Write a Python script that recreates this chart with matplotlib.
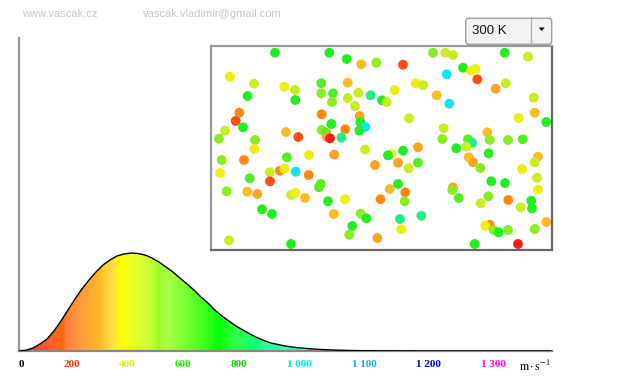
import matplotlib
matplotlib.use('Agg')
import matplotlib.pyplot as plt
import numpy as np
from matplotlib.colors import LinearSegmentedColormap
from matplotlib.patches import FancyBboxPatch, Polygon

# rozdeleni rychlosti (vyska v px nad osou)
speeds = [0, 25, 50, 75, 100, 125, 150, 175, 200, 225, 250, 275, 300, 325, 350, 375,
          400, 425, 450, 475, 500, 525, 550, 575, 600, 625, 650, 675, 700, 725, 750,
          775, 800, 825, 850, 875, 900, 925, 950, 975, 1000, 1050, 1100, 1150, 1200,
          1300, 1400, 1500, 1700, 1900]
density = [0, 0.8, 3, 7, 12, 20, 30, 41, 52, 62, 71, 79, 86, 91, 95, 97,
           98, 97.5, 96, 93, 89, 84, 79, 73, 67, 61, 54, 48, 41, 35, 30,
           25, 21, 17, 13.5, 10.5, 8, 6.5, 5, 4, 3.2, 2, 1.2, 0.7, 0.4,
           0.15, 0.05, 0, 0, 0]

tick_labels = ['0', '200', '400', '600', '800', '1 000', '1 100', '1 200', '1 300']
tick_colors = ['#000000', '#ff3311', '#ddf020', '#22ee00', '#11cc11', '#00e5ff',
               '#11aaff', '#0000ee', '#ff00ff']
tick_pos = [7, 188, 388, 587, 787, 1001, 1233, 1464, 1694]

# barevny prechod podle rychlosti
grad_speed = [0, 50, 86, 140, 152, 170, 218, 271, 290, 313, 343, 367, 396, 443, 479,
              497, 527, 599, 694, 712, 765, 819, 837, 884, 956, 1027, 1100, 1300, 1904]
grad_color = ['#ff3322', '#ff3a25', '#ff5533', '#ff6a20', '#ff6600', '#ff8040',
              '#ff9a3a', '#ffb030', '#ffbb22', '#ffd040', '#ffe840', '#ffff00',
              '#eeff22', '#d8ff33', '#bbff33', '#99ff22', '#aaff44', '#77ff33',
              '#22ff11', '#00ff00', '#33ff44', '#22ff66', '#11ff77', '#33ff99',
              '#33ffbb', '#22ffdd', '#22dddd', '#2277aa', '#333366']

# molekuly v nadobe
dot_x = [275, 329.3, 346.7, 361.3, 376.3, 230, 254, 284.3, 295, 321.3, 347.7, 247.7,
         295.3, 321.3, 333, 332, 347.7, 358.3, 370.7, 382, 386.7, 355, 239.3, 235.7,
         243, 225, 219, 255, 286, 298.3, 321.7, 331.3, 321.7, 326, 326.7, 330, 345.3,
         341.3, 359.7, 360.3, 365.3, 359.3, 365, 254.3,
         433, 445.3, 453, 504.7, 528, 403, 463, 471, 475.5, 477.3, 446.7, 415.7, 423,
         394.7, 505.7, 495.7, 436.7, 449.3, 533.7, 409, 518.7, 534.7, 546.3, 443.7,
         442.3, 487.3, 468, 472.3, 489.7, 508, 522.7,
         221.7, 244, 287, 309, 334.3, 375, 220, 249.7, 269.7, 280, 284.3, 295.7, 308.7,
         270, 320.7, 319, 226.7, 247.3, 257.3, 291, 295.3, 305, 328, 345, 380.5, 262,
         272, 333.7, 360.7, 366.3, 352.3, 349.3, 377.3, 229, 291,
         391.3, 388, 403, 418, 398, 408.7, 418, 456.3, 466.3, 488.7, 468.7, 473, 480.3,
         538, 534.7, 522, 537, 389.7, 398, 405.3, 404.7, 453, 452.3, 458.7, 491.3, 505,
         488.3, 480.7, 508.3, 538, 531.3, 532, 520.7, 546.3, 400, 421.3, 401.3, 489.7,
         485.3, 493.7, 498.7, 508, 534.7, 474.7, 518]
dot_y = [52.7, 52.7, 59, 64.3, 62.7, 76.7, 83.7, 86.7, 90, 83.3, 82.7, 96,
         100, 93.3, 93.3, 102, 98, 92.7, 95.3, 100.3, 102, 106, 112.7, 121,
         127.3, 130.7, 138.7, 140, 132, 137, 114.3, 124, 130, 132.5, 136.8, 138.3, 129.3,
         137.7, 116, 122, 127, 130.7, 149.5, 149,
         52.7, 52.7, 55, 52.7, 56.7, 64.7, 67.7, 70.7, 69, 79.3, 74.3, 83.3, 85,
         90, 83.3, 88.7, 95.3, 103.7, 97.7, 118.3, 118, 112.7, 122, 128.3,
         139, 132.3, 139.3, 142.7, 140, 140, 139.3,
         160, 160, 157.3, 155, 154.7, 165, 173, 178.3, 172.3, 170.7, 168.7, 171.7, 175,
         181.3, 184, 187.3, 191.3, 191.7, 194, 195, 192.7, 198, 201.3, 199.3, 199.2, 209.3,
         214, 214, 213.7, 218.3, 226, 234.7, 238, 240.3, 244,
         154, 155.3, 150.7, 147.3, 162.7, 168.3, 162.7, 148.3, 146.7, 153.3, 157.3, 162.3, 168,
         156.7, 162.3, 169, 177.7, 189, 184, 192.3, 201.3, 187.3, 190, 198, 181.3, 183,
         196.3, 203.3, 200, 189.7, 200.7, 208.3, 207.3, 222, 219, 215.7, 229.3, 224.7,
         225.7, 230, 232.3, 230, 229, 244, 244]
dot_kind = list('GGGoLyYyYgoGGLgLYYTGYYORGYLLoROGLgarOTaGCGYy'
                'LYYGYRGyyRCyYyYaoCYYyoGYLogTLLg'
                'LOgyaaygYOyCORggLoaYyoGyOGGoLGGLaYG'
                'yGGaaYgGYGoaLoYyYoGOLaLgGGLYOyGGYoTTyOyLGLLGr')

dot_colors = {'G': '#22ee22', 'g': '#55ee22', 'L': '#88ee22', 'Y': '#c8ee22',
              'y': '#eeee11', 'o': '#ffbb22', 'a': '#ffa322', 'O': '#ff8811',
              'R': '#ff4d11', 'r': '#ff1a11', 'T': '#22ee88', 'C': '#11e6ee'}

W, H = 620, 387
fig = plt.figure(figsize=(W / 100, H / 100), dpi=100)
fig.patch.set_facecolor('white')

# graf rozdeleni
ax = fig.add_axes([19 / W, 36 / H, 533 / W, 313 / H])
xmax = 1904
ax.set_xlim(0, xmax)
ax.set_ylim(0, 313)

cmap = LinearSegmentedColormap.from_list(
    'rychlost', [(s / xmax, c) for s, c in zip(grad_speed, grad_color)], N=1024)
grad = np.linspace(0, 1, 1024).reshape(1, -1)
im = ax.imshow(grad, cmap=cmap, extent=[0, xmax, 0, 110], aspect='auto',
               interpolation='bilinear', zorder=1)
verts = list(zip(speeds, density)) + [(speeds[-1], 0), (0, 0)]
clip = Polygon(verts, closed=True, facecolor='none', edgecolor='none')
ax.add_patch(clip)
im.set_clip_path(clip)
ax.plot(speeds, density, color='black', lw=1.0, zorder=3)

for side in ['top', 'right']:
    ax.spines[side].set_visible(False)
ax.spines['left'].set_color('#999999')
ax.spines['left'].set_linewidth(1.6)
ax.spines['bottom'].set_color('#888888')
ax.spines['bottom'].set_linewidth(1.6)
ax.set_yticks([])
ax.set_xticks(tick_pos, tick_labels)
ax.tick_params(axis='x', length=0, pad=6.5)
for lbl, c in zip(ax.get_xticklabels(), tick_colors):
    lbl.set_color(c)
    lbl.set_fontfamily('Liberation Serif')
    lbl.set_fontweight('bold')
    lbl.set_fontsize(8)
plt.rcParams['mathtext.fontset'] = 'stix'
ax.text(1843, -15, r'$\mathrm{m \cdot s^{-1}}$', ha='center', va='center',
        fontsize=8.5, color='black')

# nadoba s molekulami
box = fig.add_axes([211 / W, (H - 250) / H, 341 / W, 204 / H])
box.set_xlim(211, 552)
box.set_ylim(250, 46)
box.set_xticks([])
box.set_yticks([])
box.scatter(dot_x, dot_y, s=50, c=[dot_colors[k] for k in dot_kind], linewidths=0)
for side in ['top', 'left']:
    box.spines[side].set_color('#999999')
    box.spines[side].set_linewidth(1.6)
for side in ['bottom', 'right']:
    box.spines[side].set_color('#666666')
    box.spines[side].set_linewidth(1.6)

# zahlavi a vyber teploty
over = fig.add_axes([0, 0, 1, 1])
over.set_xlim(0, W)
over.set_ylim(H, 0)
over.axis('off')
over.patch.set_alpha(0)
over.text(22.5, 14, 'www.vascak.cz', fontsize=8, color='#c8c8c8',
          family='Liberation Sans', va='center', ha='left')
over.text(142.5, 14, 'vascak.vladimir@gmail.com', fontsize=8, color='#c8c8c8',
          family='Liberation Sans', va='center', ha='left')
sel = FancyBboxPatch((465.7, 18.3), 86, 26, boxstyle='round,pad=0,rounding_size=3',
                     facecolor='#f3f3f3', edgecolor='#a0a0a0', lw=1)
over.add_patch(sel)
over.plot([530.7, 530.7], [18.8, 43.8], color='#b0b0b0', lw=1)
over.text(471.5, 30.5, '300 K', fontsize=9.5, color='#111111',
          family='Liberation Sans', va='center', ha='left')
over.add_patch(Polygon([(538.7, 27.5), (544.7, 27.5), (541.7, 31)], closed=True,
                       facecolor='black', edgecolor='none'))

fig.savefig('out.png', dpi=100)
